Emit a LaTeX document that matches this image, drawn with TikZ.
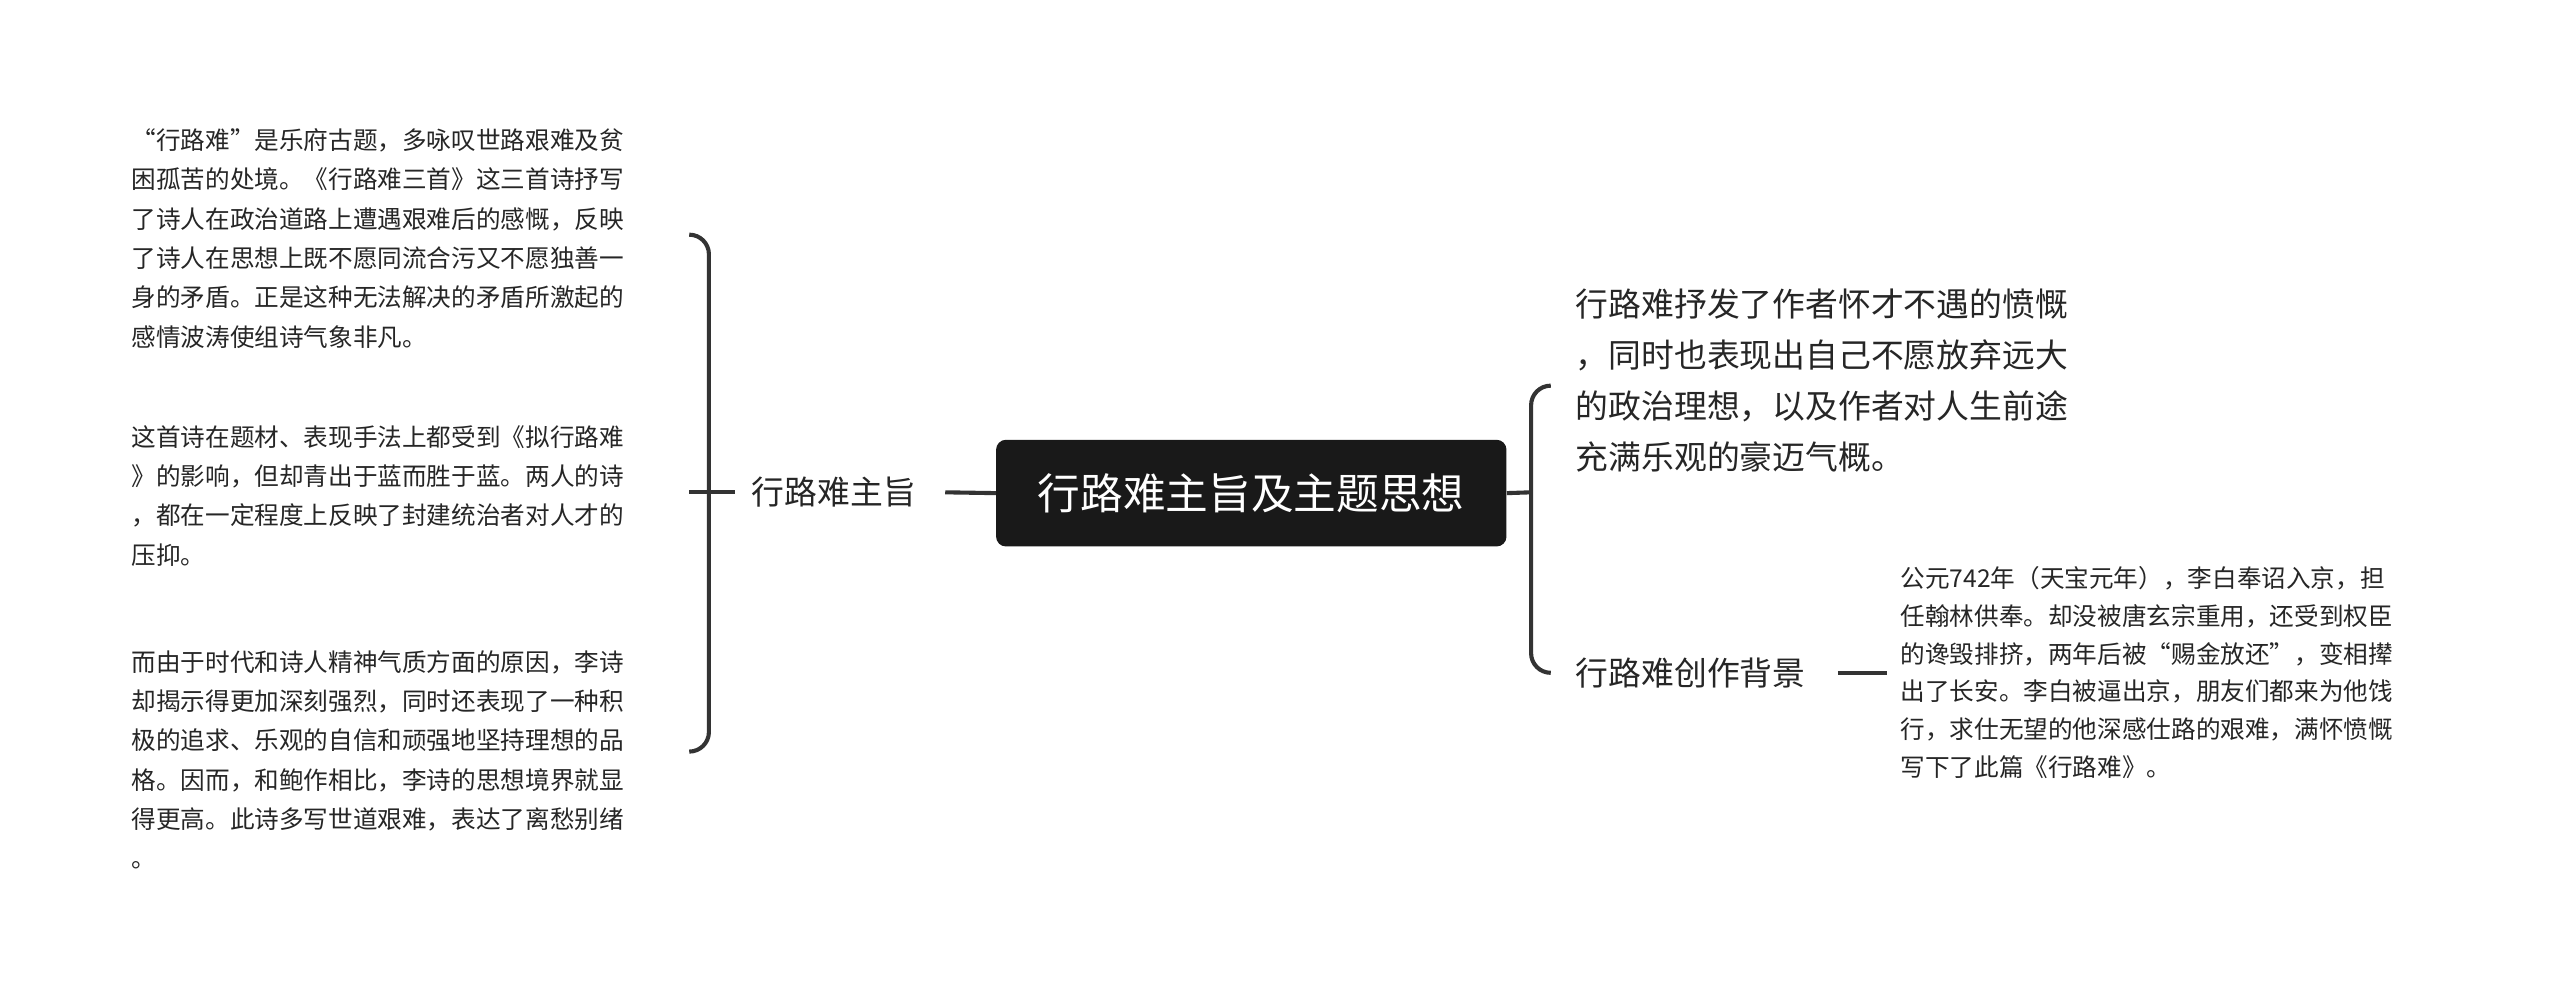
\documentclass[tikz,border=0pt]{standalone}
\usepackage{fontspec}
\setmainfont{Noto Sans CJK SC}
\begin{document}
\begin{tikzpicture}[x=1pt,y=-1pt,
 ln/.style={draw=black!80,line width=2.5pt},
 small/.style={font=\fontsize{15}{24}\selectfont,align=left,anchor=north west,inner sep=0pt,text=black!85},
 mid/.style={font=\fontsize{20}{31}\selectfont,align=left,inner sep=0pt,text=black!85}]
\useasboundingbox[fill=white] (0,0) rectangle (1560,599);
\node[fill=black!90,rounded corners=6pt,minimum width=311pt,minimum height=65pt,text=white,font=\fontsize{26}{30}\selectfont] (c) at (762.5,300.5) {行路难主旨及主题思想};
\node[mid,anchor=west] (l) at (458,300) {行路难主旨};
\draw[ln] (c.west) -- (576,300);
\coordinate (lb) at (420,300);
\draw[ln] (lb) -- (448,300);
\draw[ln] (420,143) to[out=0,in=90] (432,155) -- (432,446) to[out=-90,in=0] (420,458);
\node[small] (t1) at (80,78) {“行路难”是乐府古题，多咏叹世路艰难及贫\\困孤苦的处境。《行路难三首》这三首诗抒写\\了诗人在政治道路上遭遇艰难后的感慨，反映\\了诗人在思想上既不愿同流合污又不愿独善一\\身的矛盾。正是这种无法解决的矛盾所激起的\\感情波涛使组诗气象非凡。};
\node[small] (t2) at (80,259) {这首诗在题材、表现手法上都受到《拟行路难\\》的影响，但却青出于蓝而胜于蓝。两人的诗\\，都在一定程度上反映了封建统治者对人才的\\压抑。};
\node[small] (t3) at (80,396) {而由于时代和诗人精神气质方面的原因，李诗\\却揭示得更加深刻强烈，同时还表现了一种积\\极的追求、乐观的自信和顽强地坚持理想的品\\格。因而，和鲍作相比，李诗的思想境界就显\\得更高。此诗多写世道艰难，表达了离愁别绪\\。};
\draw[ln] (c.east) -- (933,300);
\draw[ln] (945,235) to[out=180,in=90] (933,247) -- (933,398) to[out=-90,in=180] (945,410);
\node[mid,anchor=north west] (r1) at (960,176) {行路难抒发了作者怀才不遇的愤慨\\，同时也表现出自己不愿放弃远大\\的政治理想，以及作者对人生前途\\充满乐观的豪迈气概。};
\node[mid,anchor=west] (r2) at (960,410) {行路难创作背景};
\draw[ln] (1120,410) -- (1150,410);
\node[small,font=\fontsize{15}{23}\selectfont] (r3) at (1158,345) {公元742年（天宝元年），李白奉诏入京，担\\任翰林供奉。却没被唐玄宗重用，还受到权臣\\的谗毁排挤，两年后被“赐金放还”，变相撵\\出了长安。李白被逼出京，朋友们都来为他饯\\行，求仕无望的他深感仕路的艰难，满怀愤慨\\写下了此篇《行路难》。};
\end{tikzpicture}
\end{document}
